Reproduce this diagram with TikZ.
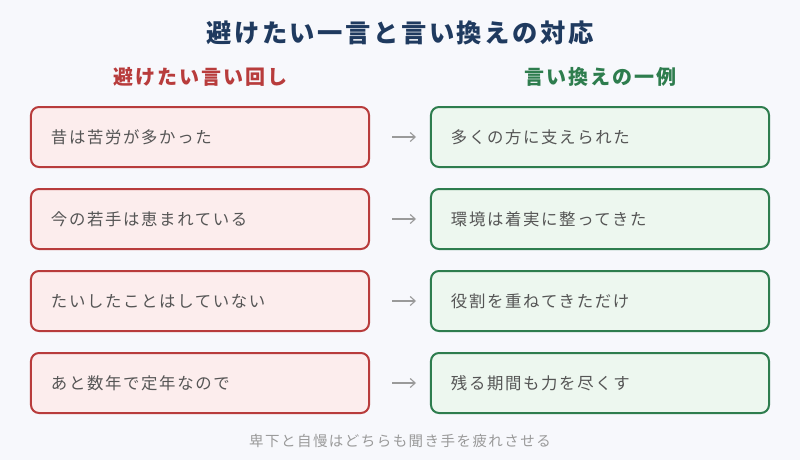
\documentclass[tikz,border=0pt]{standalone}
\usepackage{fontspec}
\setmainfont{Noto Sans CJK JP}[LetterSpace=10]
\usetikzlibrary{arrows.meta,matrix}

\definecolor{pagebg}{HTML}{F7F8FC}
\definecolor{titleblue}{HTML}{1F3A5F}
\definecolor{avoidred}{HTML}{B83C3C}
\definecolor{avoidfill}{HTML}{FCEDED}
\definecolor{goodgreen}{HTML}{2E7D4E}
\definecolor{goodfill}{HTML}{EDF7EF}
\definecolor{phrasegray}{HTML}{555555}
\definecolor{notegray}{HTML}{9A9A9A}

\begin{document}
\begin{tikzpicture}[x=1pt,y=-1pt
  ,>={Straight Barb[length=5pt,width=9pt]}
  ,semithick]
  \tikzstyle{phrase}=[line width=2pt,rounded corners=8pt
  ,minimum width=338pt,minimum height=60pt
  ,inner xsep=20pt,text width=298pt,align=left
  ,text=phrasegray,font=\fontsize{16.4}{19}\selectfont]
  \tikzstyle{avoid}=[phrase,draw=avoidred,fill=avoidfill]
  \tikzstyle{rephrase}=[phrase,draw=goodgreen,fill=goodfill]
  \tikzstyle{head}=[font=\bfseries\fontsize{20}{24}\selectfont]

  \fill[pagebg] (0,0) rectangle (800,460);
  \useasboundingbox (0,0) rectangle (800,460);

  \node[font=\bfseries\fontsize{25.3}{30}\selectfont,text=titleblue] (title) at (400,33)
  {避けたい一言と言い換えの対応};

  \matrix (m) [row sep=20pt,column sep=60pt,inner sep=0pt] at (400,260)
  {
    % left: what to avoid, right: what to say instead
    \node[avoid](av1) {昔は苦労が多かった};	&
    \node[rephrase](rp1) {多くの方に支えられた};	\\
    \node[avoid](av2) {今の若手は恵まれている};	&
    \node[rephrase](rp2) {環境は着実に整ってきた};	\\
    \node[avoid](av3) {たいしたことはしていない};	&
    \node[rephrase](rp3) {役割を重ねてきただけ};	\\
    \node[avoid](av4) {あと数年で定年なので};	&
    \node[rephrase](rp4) {残る期間も力を尽くす};	\\
  };

  \node[head,text=avoidred] (havoid) at ([yshift=29pt]av1.north) {避けたい言い回し};
  \node[head,text=goodgreen] (hrephrase) at ([yshift=29pt]rp1.north) {言い換えの一例};

  \path[->,draw=notegray,line width=1.1pt,shorten <=22pt,shorten >=14pt]
  (av1) edge (rp1)
  (av2) edge (rp2)
  (av3) edge (rp3)
  (av4) edge (rp4);

  \node[text=notegray,font=\fontsize{14.5}{18}\selectfont] (note) at (400,441)
  {卑下と自慢はどちらも聞き手を疲れさせる};
\end{tikzpicture}
\end{document}
